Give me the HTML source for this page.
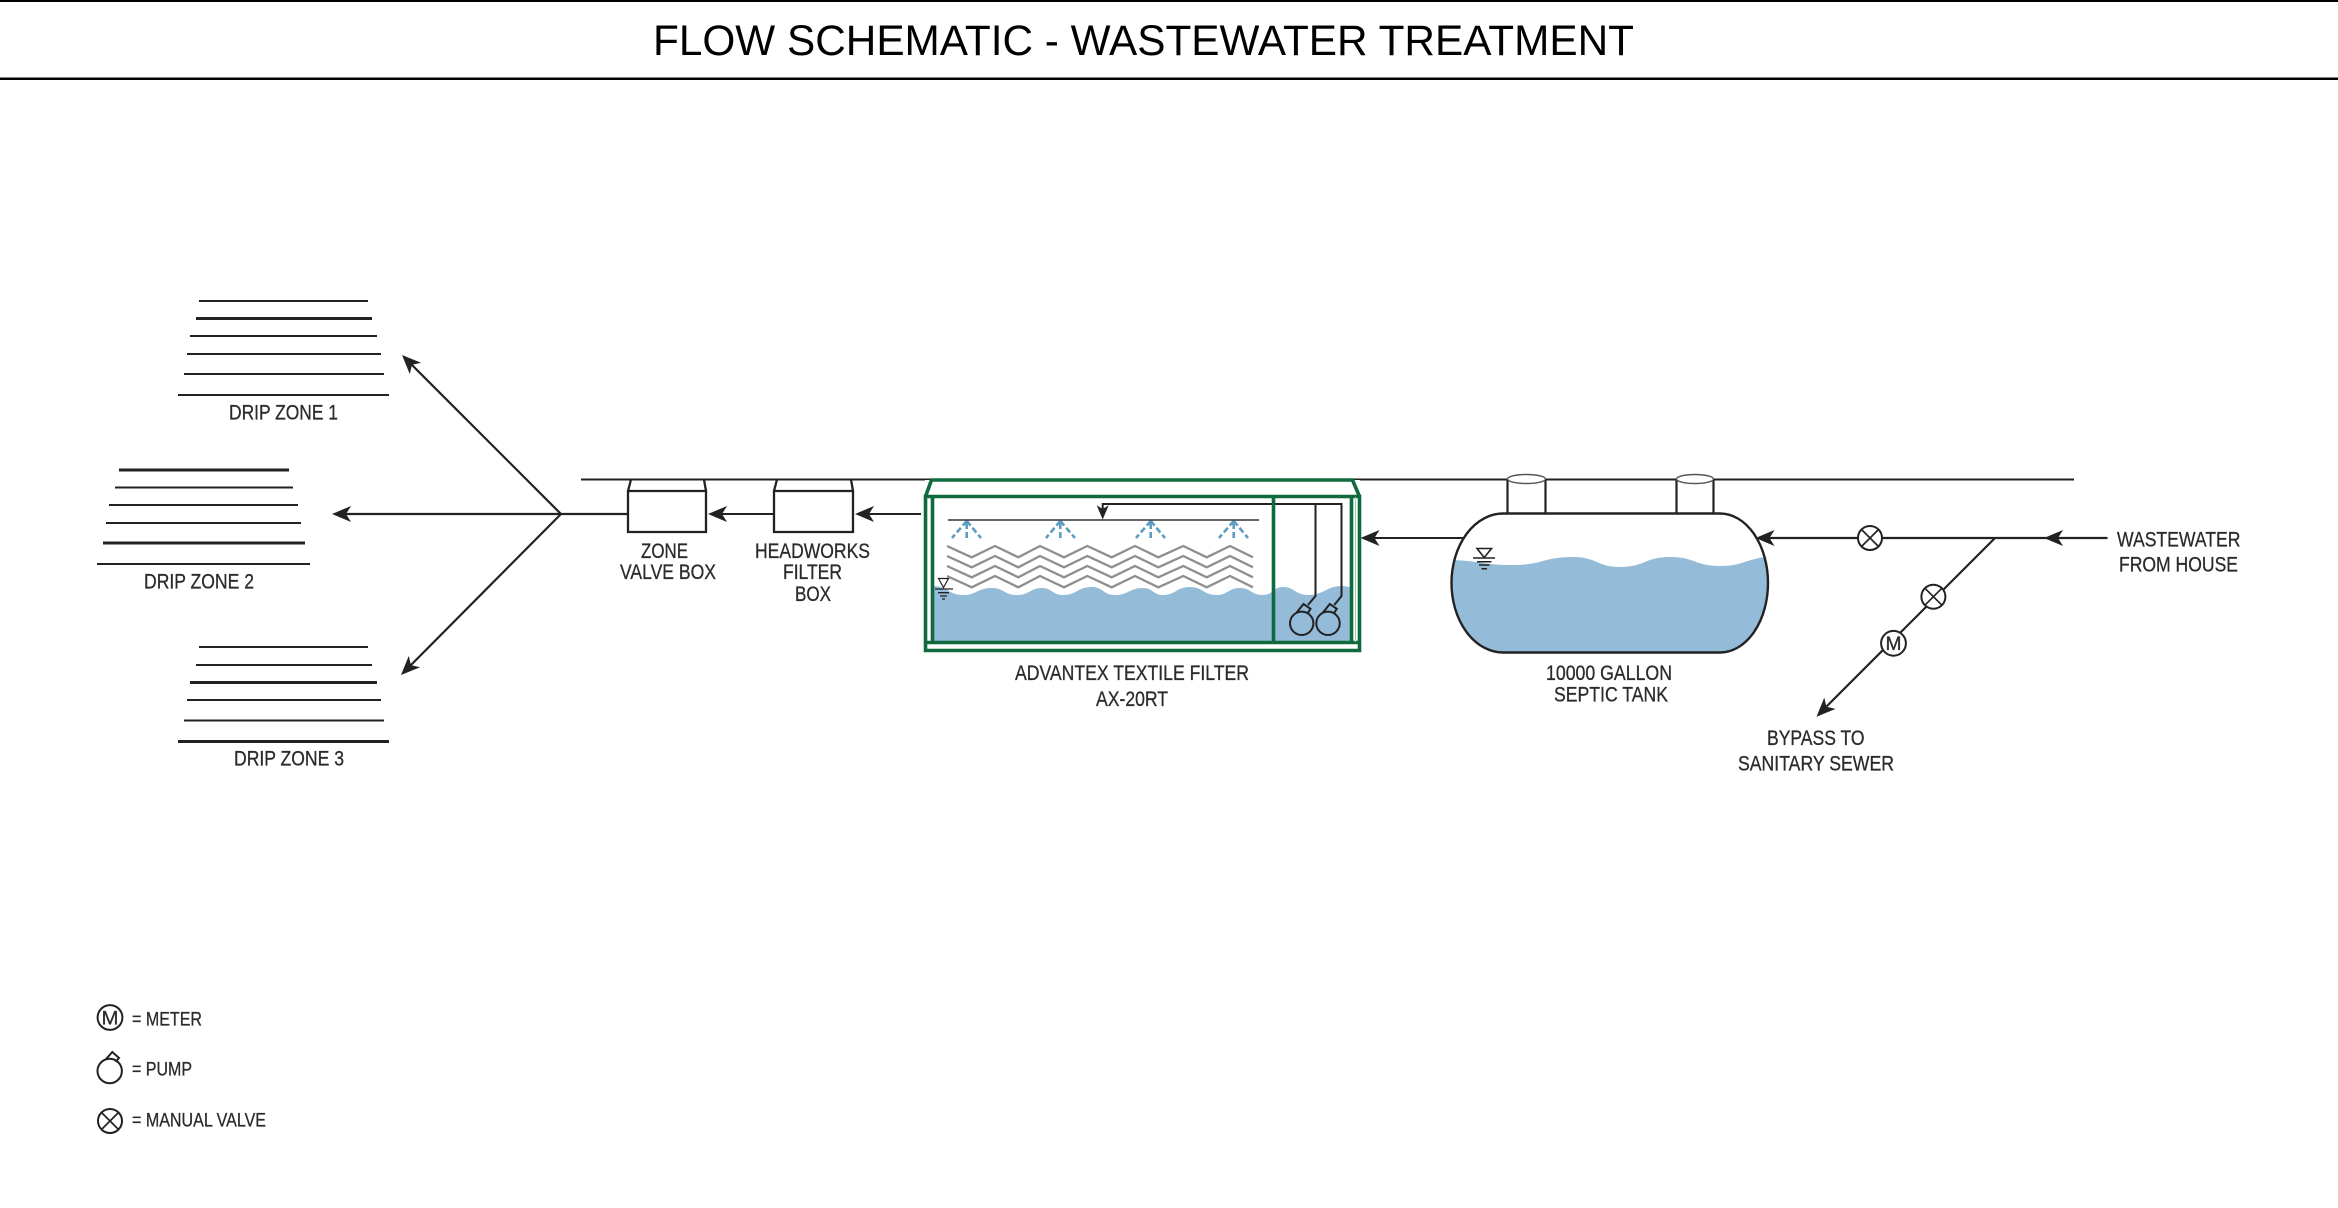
<!DOCTYPE html>
<html><head><meta charset="utf-8"><style>
html,body{margin:0;padding:0;background:#fff}
svg{display:block}
text{font-family:"Liberation Sans",sans-serif;fill:#2b2b2b;font-size:21px;stroke:#2b2b2b;stroke-width:.3}
.l{stroke:#222;stroke-width:2;fill:none}
.t{stroke:#222;stroke-width:3;fill:none}
.b{stroke:#222;stroke-width:2.3;fill:#fff}
.g{stroke:#0f6b3e;stroke-width:3.6;fill:none;stroke-linejoin:miter}
.z{stroke:#8f8f8f;stroke-width:2.3;fill:none}
.s{stroke:#5f9cc0;stroke-width:2.6;fill:none;stroke-dasharray:6 3}
.c{stroke:#222;stroke-width:2;fill:#fff}
.w{fill:#94bbd8}
</style></head><body>
<svg width="2338" height="1208" viewBox="0 0 2338 1208" xmlns="http://www.w3.org/2000/svg">
<defs>
<polygon id="ah" points="0,0 19,-8 14,0 19,8" fill="#222"/>
<clipPath id="tank"><path d="M1503 513.5H1720A48 69.5 0 0 1 1720 652.5H1503A51.5 69.5 0 0 1 1503 513.5Z"/></clipPath>
<g id="v"><circle r="12" class="c"/><path d="M-8.5-8.5L8.5 8.5M-8.5 8.5L8.5-8.5" class="l" style="stroke-width:1.7"/></g>
</defs>
<rect width="2338" height="1208" fill="#fff"/>

<!-- title -->
<rect x="0" y="0" width="2338" height="2" fill="#000"/>
<rect x="0" y="77.5" width="2338" height="2.5" fill="#000"/>
<text x="653" y="55" style="font-size:43px;fill:#000;stroke:none" textLength="981" lengthAdjust="spacingAndGlyphs">FLOW SCHEMATIC - WASTEWATER TREATMENT</text>

<!-- top reference line -->
<path d="M581 479.5H2074" class="l" stroke-width="2.4"/>

<!-- drip zone 1 -->
<path class="l" d="M199 301H368M190 336H377M187 354H381M184 374H384M178 395H389"/>
<path class="t" d="M196 318.5H372"/>
<text x="229" y="419.5" textLength="109" lengthAdjust="spacingAndGlyphs">DRIP ZONE 1</text>
<!-- drip zone 2 -->
<path class="l" d="M115 487.5H293M109 505H298M106 523H301M97 564H310"/>
<path class="t" d="M119 470H289M103 543H305"/>
<text x="144" y="588.5" textLength="110" lengthAdjust="spacingAndGlyphs">DRIP ZONE 2</text>
<!-- drip zone 3 -->
<path class="l" d="M199 647H368M196 665H372M187 700H381M184 720.5H384"/>
<path class="t" d="M190 682.5H377M178 741.5H389"/>
<text x="234" y="765.5" textLength="110" lengthAdjust="spacingAndGlyphs">DRIP ZONE 3</text>

<!-- manifold arrows -->
<path class="l" style="stroke-width:2.2" d="M628 514H561L410 363M561 514H340M561 514L409 667"/>
<use href="#ah" transform="translate(402 355) rotate(45)"/>
<use href="#ah" transform="translate(332 514)"/>
<use href="#ah" transform="translate(401 675) rotate(-45)"/>

<!-- zone valve box -->
<path class="b" d="M628 491H706V532H628ZM628 491L631 479.5M706 491L704 479.5"/>
<text x="641" y="558" textLength="47" lengthAdjust="spacingAndGlyphs">ZONE</text>
<text x="620" y="579" textLength="96" lengthAdjust="spacingAndGlyphs">VALVE BOX</text>
<path class="l" d="M774 514H716"/>
<use href="#ah" transform="translate(708 514)"/>
<!-- headworks -->
<path class="b" d="M774 491H853V532H774ZM774 491L777 479.5M853 491L851 479.5"/>
<text x="755" y="558" textLength="115" lengthAdjust="spacingAndGlyphs">HEADWORKS</text>
<text x="783" y="579" textLength="59" lengthAdjust="spacingAndGlyphs">FILTER</text>
<text x="795" y="601" textLength="36" lengthAdjust="spacingAndGlyphs">BOX</text>
<path class="l" d="M921 514H863"/>
<use href="#ah" transform="translate(855 514)"/>

<!-- advantex filter -->
<rect x="925" y="480" width="435" height="172" fill="#fff"/>
<path class="w" d="M933 586C948 586 948 595 963 595C977 595 977 588 992 588C1004 588 1004 595 1017 595C1030 595 1030 588 1042 588C1052 588 1052 595 1063 595C1077 595 1077 587 1092 587C1103 587 1103 595 1115 595C1129 595 1129 588 1143 588C1153 588 1153 595 1163 595C1176 595 1176 587 1190 587C1203 587 1203 595 1217 595C1228 595 1228 588 1240 588C1251 588 1251 595 1263 595C1273 595 1273 587 1283 587C1295 587 1295 595 1308 595C1325 595 1325 586 1343 586L1350 587V642H933Z"/>
<!-- zigzag media -->
<g class="z">
<path d="M947 546L971.7 557.3L995 546L1018.3 557.3L1040 546L1064 557.3L1087.3 546L1111.7 557.3L1135 546L1158.3 557.3L1183.3 546L1206.7 557.3L1230 546L1253 557.3"/>
<path transform="translate(0 10)" d="M947 546L971.7 557.3L995 546L1018.3 557.3L1040 546L1064 557.3L1087.3 546L1111.7 557.3L1135 546L1158.3 557.3L1183.3 546L1206.7 557.3L1230 546L1253 557.3"/>
<path transform="translate(0 20)" d="M947 546L971.7 557.3L995 546L1018.3 557.3L1040 546L1064 557.3L1087.3 546L1111.7 557.3L1135 546L1158.3 557.3L1183.3 546L1206.7 557.3L1230 546L1253 557.3"/>
<path transform="translate(0 30)" d="M947 546L971.7 557.3L995 546L1018.3 557.3L1040 546L1064 557.3L1087.3 546L1111.7 557.3L1135 546L1158.3 557.3L1183.3 546L1206.7 557.3L1230 546L1253 557.3"/>
</g>
<!-- sprinklers -->
<path class="s" d="M966.7 521L952 538M966.7 521L981 538M966.7 523V538M1060.3 521L1046 538M1060.3 521L1075 538M1060.3 523V538M1150.7 521L1136 538M1150.7 521L1165 538M1150.7 523V538M1233.7 521L1219 538M1233.7 521L1248 538M1233.7 523V538"/>
<path d="M948 520H1259" stroke="#333" stroke-width="1.6" fill="none"/>
<!-- pipework -->
<path class="l" d="M1102.7 512V504H1341.5V596L1334.3 605M1315.5 504V596L1308 605"/>
<use href="#ah" transform="translate(1102.7 519.5) rotate(-90) scale(.75)"/>
<!-- pumps -->
<g fill="none" stroke="#222" stroke-width="2">
<circle cx="1301.7" cy="623.3" r="11.7"/><path d="M1296.5 612.8L1303.5 604L1310.5 608.8L1307.5 613.5"/>
<circle cx="1328" cy="623.3" r="11.7"/><path d="M1322.8 612.8L1329.8 604L1336.8 608.8L1333.8 613.5"/>
</g>
<!-- level marker -->
<path d="M938.5 578.5H948.5L943.5 587.5Z" fill="#fff" stroke="#222" stroke-width="1.2"/>
<path d="M935 589H953M938 592.7H949M940 596H947M942 599H945" stroke="#222" stroke-width="1.3" fill="none"/>
<!-- green frame -->
<path class="g" d="M925.5 496.5L931.5 480H1352.5L1359.5 496.5"/>
<path class="g" d="M925.5 496.5H1359.5V650.5H925.5ZM932.5 496.5V642.5M1351.5 496.5V642.5M925.5 642.5H1359.5M1273.5 496.5V642.5"/>
<path d="M1355.5 497V642" stroke="#a9cdb8" stroke-width="1" fill="none"/>
<text x="1015" y="680" textLength="234" lengthAdjust="spacingAndGlyphs">ADVANTEX TEXTILE FILTER</text>
<text x="1096" y="706" textLength="72" lengthAdjust="spacingAndGlyphs">AX-20RT</text>

<!-- septic to filter -->
<path class="l" d="M1465 538H1368"/>
<use href="#ah" transform="translate(1360.5 538)"/>

<!-- septic tank -->
<path d="M1503 513.5H1720A48 69.5 0 0 1 1720 652.5H1503A51.5 69.5 0 0 1 1503 513.5Z" fill="#fff"/>
<path class="w" clip-path="url(#tank)" d="M1445 560C1480 560 1480 565 1513 565C1543 565 1543 557 1573 557C1597 557 1597 567 1620 567C1645 567 1645 557 1670 557C1695 557 1695 566 1720 566C1745 566 1745 558 1775 556V660H1445Z"/>
<path class="t" style="stroke-width:2.4" d="M1503 513.5H1720A48 69.5 0 0 1 1720 652.5H1503A51.5 69.5 0 0 1 1503 513.5Z"/>
<!-- risers -->
<path class="l" style="stroke-width:2.2" d="M1507.5 479V513M1545.5 479V513M1676.5 479V513M1713.5 479V513"/>
<ellipse cx="1526.5" cy="479" rx="19" ry="4.5" fill="#fff" stroke="#555" stroke-width="1.4"/>
<ellipse cx="1695" cy="479" rx="18.5" ry="4.5" fill="#fff" stroke="#555" stroke-width="1.4"/>
<!-- level marker -->
<path d="M1477 548.5H1491.5L1484.2 557.5Z" fill="#fff" stroke="#222" stroke-width="1.6"/>
<path d="M1473 558H1495M1477 561.7H1491.5M1479 565H1489.5M1481.5 568.7H1487" stroke="#222" stroke-width="1.5" fill="none"/>
<text x="1546" y="680" textLength="126" lengthAdjust="spacingAndGlyphs">10000 GALLON</text>
<text x="1554" y="701.5" textLength="114" lengthAdjust="spacingAndGlyphs">SEPTIC TANK</text>

<!-- inlet pipework -->
<path class="l" style="stroke-width:2.2" d="M2107.5 538H1764M1995 538L1824 709"/>
<use href="#ah" transform="translate(1755.5 538)"/>
<use href="#ah" transform="translate(2044 538)"/>
<use href="#ah" transform="translate(1816.5 716.7) rotate(-45)"/>
<use href="#v" x="1870" y="538"/>
<use href="#v" x="1933.4" y="596.7"/>
<circle cx="1893.5" cy="643.3" r="12.4" class="c"/>
<text x="1885.5" y="650" style="font-size:19px" textLength="16" lengthAdjust="spacingAndGlyphs">M</text>
<text x="2117" y="546.5" textLength="123.5" lengthAdjust="spacingAndGlyphs">WASTEWATER</text>
<text x="2119" y="571.5" textLength="119" lengthAdjust="spacingAndGlyphs">FROM HOUSE</text>
<text x="1767" y="745" textLength="97.5" lengthAdjust="spacingAndGlyphs">BYPASS TO</text>
<text x="1738" y="770.5" textLength="156" lengthAdjust="spacingAndGlyphs">SANITARY SEWER</text>

<!-- legend -->
<circle cx="110" cy="1017.5" r="12.4" class="c"/>
<text x="101.5" y="1024.5" style="font-size:19px" textLength="17" lengthAdjust="spacingAndGlyphs">M</text>
<text x="132" y="1025.5" style="font-size:19px" textLength="70" lengthAdjust="spacingAndGlyphs">= METER</text>
<circle cx="109.7" cy="1071" r="12.2" class="c"/>
<path d="M105.5 1059.7L112.3 1052L119 1058L115.5 1061.8" fill="none" stroke="#222" stroke-width="2"/>
<text x="132" y="1075.5" style="font-size:19px" textLength="60" lengthAdjust="spacingAndGlyphs">= PUMP</text>
<use href="#v" x="110" y="1121"/>
<text x="132" y="1126.5" style="font-size:19px" textLength="134" lengthAdjust="spacingAndGlyphs">= MANUAL VALVE</text>
</svg>
</body></html>
